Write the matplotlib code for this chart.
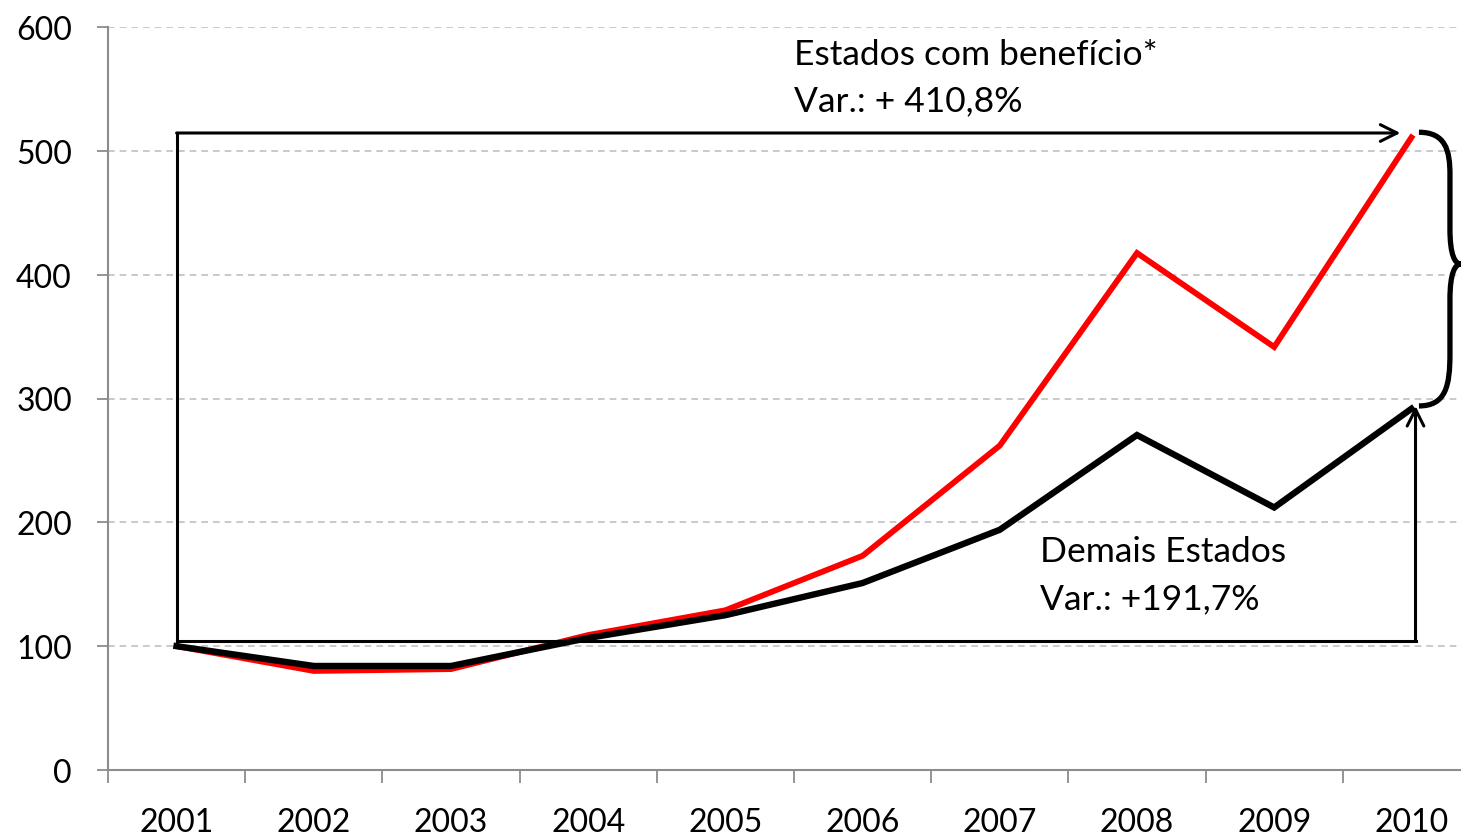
import matplotlib
matplotlib.use("Agg")
import matplotlib.pyplot as plt
from matplotlib.path import Path
from matplotlib.patches import PathPatch

plt.rcParams['font.family'] = ['Lato', 'DejaVu Sans']

years = ['2001', '2002', '2003', '2004', '2005', '2006', '2007', '2008', '2009', '2010']
com_beneficio = [100, 80, 81.5, 109, 129, 173, 262, 417.5, 341.6, 510.8]
demais = [100, 84, 84, 106.6, 125, 151, 194, 270.5, 212, 291.7]
yticks = [0, 100, 200, 300, 400, 500, 600]

fig = plt.figure(figsize=(14.61, 8.37), dpi=100)
ax = fig.add_axes([108 / 1461, 1 - 771 / 837, 1372 / 1461, 743 / 837])

x = list(range(len(years)))
ax.plot(x, com_beneficio, color='#ff0000', lw=4.2, solid_joinstyle='miter', zorder=3)
ax.plot(x, demais, color='black', lw=4.6, solid_joinstyle='miter', zorder=4)

ax.set_xlim(-0.5, len(years) - 0.5)
ax.set_ylim(0, 600)
ax.set_yticks(yticks)
ax.set_xticks([i - 0.5 for i in range(len(years) + 1)])
ax.set_xticklabels([])
ax.set_xticks(x, minor=True)
ax.set_xticklabels(years, minor=True)
ax.tick_params(axis='x', which='major', length=9, width=1.3, color='#8c8c8c', direction='out')
ax.tick_params(axis='x', which='minor', length=0, pad=27, labelsize=23)
ax.tick_params(axis='y', length=8, width=1.3, color='#8c8c8c', pad=18, labelsize=23)

for s in ['top', 'right']:
    ax.spines[s].set_visible(False)
for s in ['left', 'bottom']:
    ax.spines[s].set_color('#8c8c8c')
    ax.spines[s].set_linewidth(1.5)

ax.yaxis.grid(True, color='#c0c0c0', ls=(0, (4, 3)), lw=1.2)
ax.set_axisbelow(True)

# colchete: estados com beneficio
top = 514.4
ax.plot([0, 0], [demais[0], top], color='black', lw=2.2, zorder=5)
ax.annotate('', xy=(8.92, top), xytext=(0, top),
            arrowprops=dict(arrowstyle='->', lw=2.2, color='black', mutation_scale=30,
                            shrinkA=0, shrinkB=0), zorder=5)
# colchete: demais estados
bot = 104.2
ax.plot([0, 9.03], [bot, bot], color='black', lw=2.2, zorder=5)
ax.annotate('', xy=(9.03, 294), xytext=(9.03, bot),
            arrowprops=dict(arrowstyle='->', lw=2.2, color='black', mutation_scale=30,
                            shrinkA=0, shrinkB=0), zorder=5)

# chave
verts = [(9.055, 515), (9.25, 515), (9.281, 500), (9.281, 481),
         (9.281, 437),
         (9.281, 415), (9.32, 408.6), (9.361, 408.6),
         (9.32, 408.6), (9.281, 402), (9.281, 380),
         (9.281, 336),
         (9.281, 310), (9.25, 294), (9.055, 294)]
codes = [Path.MOVETO, Path.CURVE4, Path.CURVE4, Path.CURVE4,
         Path.LINETO,
         Path.CURVE4, Path.CURVE4, Path.CURVE4,
         Path.CURVE4, Path.CURVE4, Path.CURVE4,
         Path.LINETO,
         Path.CURVE4, Path.CURVE4, Path.CURVE4]
ax.add_patch(PathPatch(Path(verts, codes), fill=False, lw=3.8, color='black',
                       clip_on=False, zorder=5))

ann = dict(fontsize=25.5, va='center', ha='left')
ax.text(4.5, 578.5, 'Estados com benefício*', **ann)
ax.text(4.5, 541, 'Var.: + 410,8%', **ann)
ax.text(6.293, 176.5, 'Demais Estados', **ann)
ax.text(6.293, 139, 'Var.: +191,7%', **ann)

fig.savefig('out.png', dpi=100)
